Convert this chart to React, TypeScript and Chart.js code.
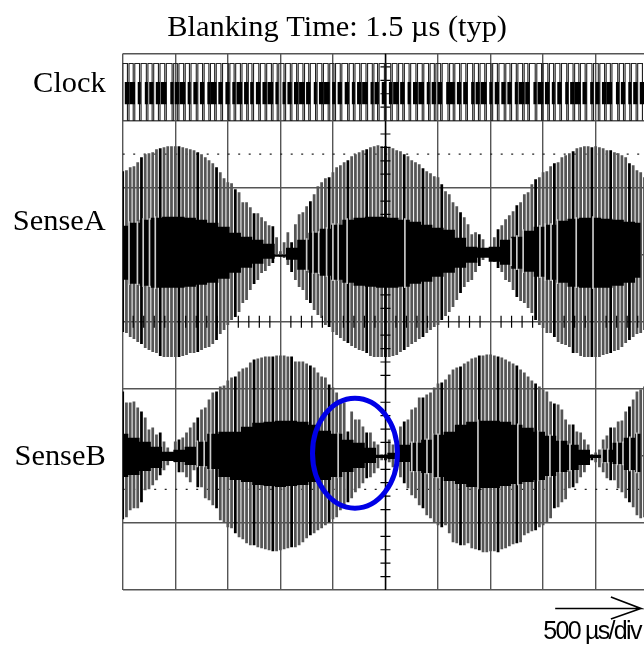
import React, { useEffect, useRef } from "react";
import { Chart, registerables } from "chart.js";

Chart.register(...registerables);

// Amplitudes are read in 1/67 of a division, about each channel's centre line.
const UNITS_PER_DIV = 67;
const SPIKES_PER_DIV = 14;
const INNER_STEP = 3;
const VIEW_DIVS = 9.92;

const senseAHigh = [83,84,87,88,92,97,100,101,102,105,106,107,108,108,108,108,107,106,105,104,102,100,97,94,91,87,82,76,72,71,65,62,52,52,47,41,41,37,33,29,28,17,3,12,22,12,30,40,42,48,53,60,68,72,76,77,82,87,89,92,94,98,100,102,104,105,107,108,109,108,108,107,106,104,103,100,98,94,92,90,86,83,81,78,77,70,63,60,52,48,42,37,30,20,22,20,15,2,7,17,25,29,35,39,43,49,52,60,62,70,75,77,82,83,88,91,92,97,99,101,103,106,107,108,108,107,108,107,106,104,104,102,101,99,97,91,89,84,82,77];
const senseALow = [77,78,82,84,87,89,93,95,97,98,101,102,102,102,102,102,101,100,98,98,97,95,93,92,89,85,79,75,70,65,62,57,48,45,35,29,25,18,16,11,8,0,2,3,10,17,25,32,35,45,48,55,60,63,70,72,77,80,83,86,88,91,93,95,96,98,101,102,102,102,102,102,101,100,97,95,92,89,87,84,82,78,75,72,70,65,61,57,52,45,38,32,27,25,17,11,5,1,0,7,13,17,25,27,35,42,46,48,53,58,65,70,73,78,78,82,87,89,90,92,98,98,101,102,102,102,102,102,100,99,98,96,95,92,88,85,82,79,78,75];
const senseBHigh = [64,53,53,54,48,44,38,26,28,21,23,14,8,1,14,16,18,23,28,33,38,46,48,56,63,64,69,70,75,78,79,84,87,88,93,96,97,98,99,99,99,100,100,100,99,99,94,94,94,92,90,88,83,79,78,71,68,63,53,53,24,44,36,36,29,23,23,14,11,1,1,16,11,8,29,34,36,46,48,58,58,61,63,68,72,73,76,81,86,88,89,92,94,97,98,100,100,101,101,100,99,98,96,94,92,90,86,83,79,75,72,69,66,64,54,52,51,46,36,31,31,24,23,16,11,1,3,6,16,20,28,28,34,35,44,49,56,64,66,69];
const senseBLow = [63,61,54,52,52,46,34,33,29,24,19,14,9,4,6,16,16,21,26,14,31,31,42,44,49,52,64,66,71,72,77,81,83,87,89,89,91,92,93,94,95,95,94,93,92,91,91,89,86,82,79,77,74,72,69,66,63,61,54,49,46,42,36,32,27,22,21,17,12,4,4,6,11,14,21,27,32,39,42,49,52,59,62,66,69,71,69,77,86,87,89,89,87,92,93,94,96,96,95,95,96,93,92,90,88,87,86,79,77,75,74,71,69,66,62,52,51,46,43,32,31,27,21,16,6,4,6,11,16,22,24,24,32,36,42,46,51,59,62,61];

// Solid inner band of each channel, one reading every third spike.
const innerAHigh = [29,32,35,37,38,38,37,35,32,28,22,18,15,11,0,7,15,22,26,30,35,37,38,38,37,35,33,30,27,25,17,8,7,8,15,18,24,28,30,34,36,37,37,36,35,33,32];
const innerALow = [25,29,31,33,33,33,32,30,28,24,18,13,9,4,2,5,15,18,21,25,28,31,32,33,33,32,29,27,22,18,13,8,3,7,10,14,17,22,25,28,32,33,33,33,31,28,23];
const innerBHigh = [22,18,14,9,4,6,9,14,22,24,24,29,33,34,35,35,34,31,25,22,16,13,8,1,3,11,13,16,21,24,31,34,35,35,34,31,28,24,20,15,11,6,1,6,13,18,22];
const innerBLow = [21,19,15,12,5,6,9,10,13,21,24,26,29,30,31,30,29,26,24,21,16,12,7,2,3,6,15,17,21,25,28,31,32,32,30,28,26,24,20,16,14,9,2,6,8,14,16];

// Thin slits in the solid band, in divisions.
const slitsA = [0.12,0.28,0.39,0.51,0.62,3.5,3.62,3.73,3.88,4.0,4.1,4.27,5.37,7.39,7.5,7.62,7.94,8.04,8.15,8.27,8.63,8.95];
const slitsB = [1.42,1.55,1.67,4.1,5.5,5.6,5.79,5.9,6.0,6.76,7.52,7.9,8.13,8.32,8.51,9.12,9.23,9.41,9.52,9.65,9.78];

// Clock trace, in hundredths of a division.
const clockPeriods = [12,11,12,13,11,12,12,14,10,12,11,13,12,12,11,12,14,11,12,12,10,13,12,12,11,13,12,12,12,11,13,12,12,11,12,14,11,12,12,12,10,13,12,12,11,12,13,12,12,11,12,14,10,12,12,13,11,12,12,12,13,11,12,12,10,14,12,12,11,12,13,12,11,12,13,12,12,11,14,11,12,12,12];
const clockBlocks = [6,8,5,4,7,6,8,5,6,9,5,7,6,4,8,6,7,5,8,6,5,7,6,8,5,4,7,6,8,6,5,7,9,5,6,7,4,6,8,5,7,6,5,8,6,4,7,8,5,6,7,5,9,6,6,4,7,8,5,6,7,6,4,8,6,5,8,7,5,6,4,7,8,6,5,7,6,8,5,6,4,7,6];
const CLOCK_LOW = 7.0;
const CLOCK_HIGH = 7.85;
const CLOCK_BLOCK_LOW = 7.25;
const CLOCK_BLOCK_HIGH = 7.57;

const CENTER_A = 5;
const CENTER_B = 2;

const graticuleOnY = [0.2,0.4,0.6,0.8,1.2,1.4,1.6,1.8,2.2,2.4,2.6,2.8,3.2,3.4,3.6,3.8,4.2,4.4,4.6,4.8,5.2,5.4,5.6,5.8,6.2,6.4,6.6,6.8,7.2,7.4,7.6,7.8];
const graticuleOnX = [0.2,0.4,0.6,0.8,1.2,1.4,1.6,1.8,2.2,2.4,2.6,2.8,3.2,3.4,3.6,3.8,4.2,4.4,4.6,4.8,5.2,5.4,5.6,5.8,6.2,6.4,6.6,6.8,7.2,7.4,7.6,7.8,8.2,8.4,8.6,8.8,9.2,9.4,9.6,9.8];
const dottedLevels = [6.5, 1.5];

const titleText = "Blanking Time: 1.5 \u00b5s (typ)";
const titleAt = 4.08;
const channelLabels = ["Clock", "SenseA", "SenseB"];
const channelLabelAt = [7.55, 5.49, 1.98];
const scaleNote = "500 \u00b5s/div";
const scaleNoteAt = { x: 8.93, y: -0.63 };
const arrowX = [8.23, 9.86, 9.29, 9.86, 9.29];
const arrowY = [-0.276, -0.276, -0.104, -0.276, -0.433];
const ellipse = { x: 4.42, y: 2.04, rx: 0.808, ry: 0.82 };

function App() {
  const ref = useRef<HTMLCanvasElement>(null);
  useEffect(() => {
    document.body.style.background = "#fff";
    const spikes = (hi: number[], lo: number[], c: number) =>
      hi.map((h, i) => ({ x: i / SPIKES_PER_DIV, y: [c - lo[i] / UNITS_PER_DIV, c + h / UNITS_PER_DIV] }));
    const inner = (a: number[], c: number, s: number) =>
      a.map((v, k) => ({ x: (k * INNER_STEP) / SPIKES_PER_DIV, y: c + (s * v) / UNITS_PER_DIV }));
    const slits = (xs: number[], hi: number[], lo: number[], c: number) =>
      xs.map((x) => {
        const k = Math.min(hi.length - 1, Math.round((x * SPIKES_PER_DIV) / INNER_STEP));
        return { x, y: [c - (lo[k] + 1) / UNITS_PER_DIV, c + (hi[k] + 1) / UNITS_PER_DIV] };
      });

    const clockLine: { x: number; y: number }[] = [];
    const clockBars: { x: number; y: number[]; w: number }[] = [];
    let t = 0;
    clockPeriods.forEach((p, i) => {
      const w = clockBlocks[i];
      clockLine.push({ x: t / 100, y: CLOCK_LOW }, { x: t / 100, y: CLOCK_HIGH },
        { x: (t + p - 3) / 100, y: CLOCK_HIGH }, { x: (t + p - 3) / 100, y: CLOCK_LOW });
      clockBars.push({ x: (t + p - w / 2 - 1) / 100, y: [CLOCK_BLOCK_LOW, CLOCK_BLOCK_HIGH], w });
      t += p;
    });
    const lineBase = { type: "line" as const, pointRadius: 0, tension: 0, xAxisID: "x", yAxisID: "y" };
    const spikeBase = {
      type: "bar" as const, grouped: false, barThickness: 2.1, borderWidth: 0, xAxisID: "x", yAxisID: "y", order: 8,
      backgroundColor: (c: any) => (c.dataIndex % 5 === 0 ? "#000" : "#555"),
    };
    const bandBase = { ...lineBase, stepped: "middle" as const, borderWidth: 0, order: 7 };

    const annotationPlugin = {
      id: "annotations",
      afterDatasetsDraw(c: any) {
        const ctx = c.ctx;
        const sx = c.scales.x, sy = c.scales.y;
        const px = sx.getPixelForValue(ellipse.x), py = sy.getPixelForValue(ellipse.y);
        const rx = sx.getPixelForValue(ellipse.x + ellipse.rx) - px;
        const ry = py - sy.getPixelForValue(ellipse.y + ellipse.ry);
        ctx.save();
        ctx.strokeStyle = "#0000e6";
        ctx.lineWidth = 5;
        ctx.beginPath();
        ctx.ellipse(px, py, rx, ry, 0, 0, Math.PI * 2);
        ctx.stroke();
        ctx.fillStyle = "#000";
        ctx.font = "25px 'Liberation Sans'";
        ctx.textAlign = "center";
        ctx.textBaseline = "middle";
        ctx.letterSpacing = "-1.7px";
        ctx.fillText(scaleNote, sx.getPixelForValue(scaleNoteAt.x), sy.getPixelForValue(scaleNoteAt.y));
        ctx.restore();
      },
    };

    const zeroPad = (s: any) => { s.paddingLeft = s.paddingRight = s.paddingTop = s.paddingBottom = 0; };
    const chart = new Chart(ref.current!, {
      type: "bar",
      data: {
        datasets: [
          { ...spikeBase, label: "SenseA", data: spikes(senseAHigh, senseALow, CENTER_A) },
          { ...spikeBase, label: "SenseB", data: spikes(senseBHigh, senseBLow, CENTER_B) },
          { ...bandBase, label: "a+", data: inner(innerAHigh, CENTER_A, 1), fill: false },
          { ...bandBase, label: "a-", data: inner(innerALow, CENTER_A, -1), fill: "-1", backgroundColor: "#000" },
          { ...bandBase, label: "b+", data: inner(innerBHigh, CENTER_B, 1), fill: false },
          { ...bandBase, label: "b-", data: inner(innerBLow, CENTER_B, -1), fill: "-1", backgroundColor: "#000" },
          { ...spikeBase, label: "slitsA", data: slits(slitsA, innerAHigh, innerALow, CENTER_A), barThickness: 1, backgroundColor: "#ccc", order: 6.5 },
          { ...spikeBase, label: "slitsB", data: slits(slitsB, innerBHigh, innerBLow, CENTER_B), barThickness: 1, backgroundColor: "#ccc", order: 6.5 },
          ...dottedLevels.map((lvl) => ({ ...lineBase, label: "dots", data: [{ x: 0, y: lvl }, { x: VIEW_DIVS, y: lvl }], borderColor: "#222", borderWidth: 1.2, borderDash: [2, 8.5], order: 9 })),
          { ...lineBase, label: "axisY", data: [{ x: 5, y: 0 }, { x: 5, y: 8 }], borderColor: "#000", borderWidth: 1.4, order: 6 },
          { ...lineBase, label: "ticksY", showLine: false, data: graticuleOnY.map((y) => ({ x: 5, y })), pointStyle: "line", pointRadius: 5, pointBorderColor: "#000", pointBorderWidth: 1.2, order: 6 },
          { ...lineBase, label: "ticksX", showLine: false, data: graticuleOnX.map((x) => ({ x, y: 4 })), pointStyle: "line", pointRotation: 90, pointRadius: 6, pointBorderColor: "#000", pointBorderWidth: 1.2, order: 6 },
          { ...lineBase, label: "clock", data: clockLine, borderColor: "#222", borderWidth: 1.1, order: 5 },
          { ...spikeBase, label: "clockThin", data: clockBars.filter((b) => b.w <= 5), barThickness: 2.4, backgroundColor: "#000", order: 4 },
          { ...spikeBase, label: "clockMid", data: clockBars.filter((b) => b.w > 5 && b.w <= 7), barThickness: 3.6, backgroundColor: "#000", order: 4 },
          { ...spikeBase, label: "clockWide", data: clockBars.filter((b) => b.w > 7), barThickness: 5, backgroundColor: "#000", order: 4 },
          { ...lineBase, label: "arrow", data: arrowX.map((x, i) => ({ x, y: arrowY[i] })), borderColor: "#000", borderWidth: 1.6, clip: false, order: 1 },
        ] as any,
      },
      options: {
        responsive: false,
        animation: false,
        layout: { padding: 0, autoPadding: false },
        plugins: { legend: { display: false }, tooltip: { enabled: false }, title: { display: false } },
        scales: {
          x: {
            type: "linear", position: "bottom", min: 0, max: VIEW_DIVS, offset: false,
            grid: { color: "#555", lineWidth: 1.4, drawTicks: false, offset: false },
            border: { display: false },
            ticks: { display: false, stepSize: 1, includeBounds: false },
            afterFit: (s: any) => { s.height = 57; zeroPad(s); },
          },
          y: {
            type: "linear", position: "left", min: 0, max: 8,
            grid: { color: "#555", lineWidth: 1.4, drawTicks: false },
            border: { display: false },
            ticks: { display: false, stepSize: 1 },
          },
          titleAxis: {
            type: "linear", axis: "x", position: "top", min: 0, max: VIEW_DIVS, offset: false,
            grid: { display: false, drawTicks: false, offset: false }, border: { display: false },
            afterBuildTicks: (s: any) => { s.ticks = [{ value: titleAt }]; },
            afterFit: (s: any) => { s.height = 53.5; zeroPad(s); },
            ticks: { autoSkip: false, maxRotation: 0, padding: 7, color: "#000", font: { family: "Liberation Serif", size: 30.4 }, callback: () => titleText },
          },
          labelAxis: {
            type: "linear", axis: "y", position: "left", min: 0, max: 8,
            grid: { display: false, drawTicks: false }, border: { display: false },
            afterBuildTicks: (s: any) => { s.ticks = channelLabelAt.map((value) => ({ value })); },
            afterFit: (s: any) => { s.width = 122.7; zeroPad(s); },
            ticks: { autoSkip: false, padding: 17, color: "#000", font: { family: "Liberation Serif", size: 30.4 },
              callback: (v: any) => channelLabels[channelLabelAt.indexOf(v)] },
          },
        },
      } as any,
      plugins: [annotationPlugin],
    });
    return () => chart.destroy();
  }, []);
  return (
    <div style={{ position: "fixed", left: 0, top: 0, width: 644, height: 647, background: "#fff" }}>
      <canvas ref={ref} width={644} height={647} style={{ display: "block" }} />
    </div>
  );
}

export default App;
